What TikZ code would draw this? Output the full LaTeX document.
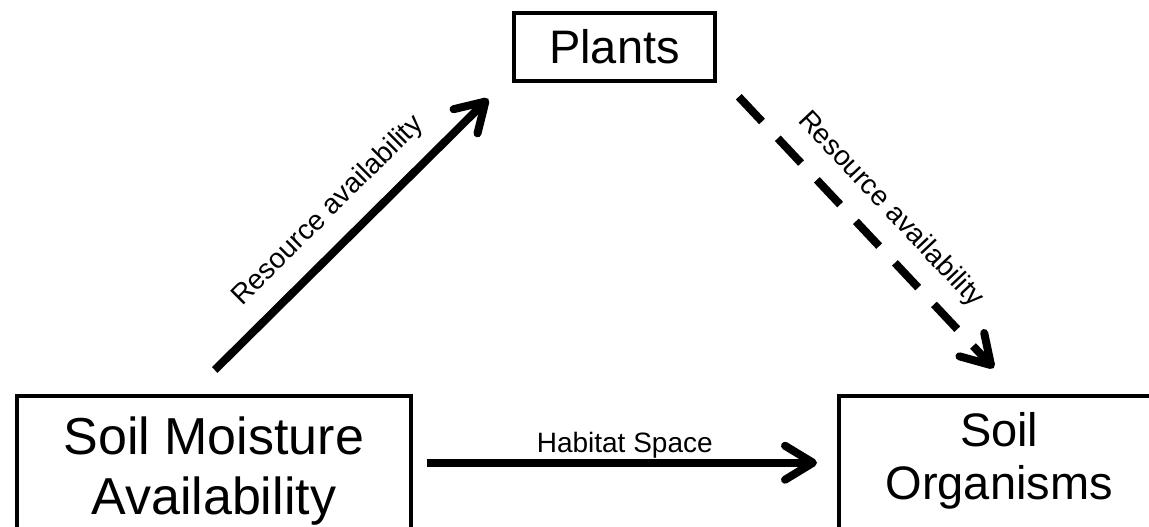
\documentclass[tikz,border=0pt]{standalone}
\usepackage{fontspec}
\setmainfont{Liberation Sans}
\usetikzlibrary{arrows.meta}

\begin{document}
\begin{tikzpicture}[x=1pt, y=-1pt,
  box/.style={draw, line width=3.5pt, inner sep=0pt, align=center},
  link/.style={line width=8pt, -{Straight Barb[length=28pt, width=34pt, round]}},
  lab/.style={font=\fontsize{28}{32}\selectfont, inner sep=1pt}]
\useasboundingbox (0,0) rectangle (1149,527);
\clip (0,0) rectangle (1149,527);

\node (plants) at (614.5,47) [box, minimum width=201pt, minimum height=68pt, font=\fontsize{47}{54}\selectfont] {Plants};
\node (moisture) at (15,394) [box, anchor=north west, minimum width=394pt, text height=119pt, text depth=15pt, font=\fontsize{52}{60}\selectfont] {Soil Moisture\\Availability};
\node (organisms) at (837,394) [box, anchor=north west, minimum width=321pt, text height=104pt, text depth=30pt, font=\fontsize{47}{53}\selectfont] {Soil\\Organisms};

\draw[link] ([shift={(1,-24)}]moisture.north) -- ([shift={(-24,16)}]plants.south west)
  node[lab, midway, sloped, above=15pt] (resleft) {Resource availability};
\draw[link, dash pattern=on 34pt off 23pt] ([shift={(22,14)}]plants.south east) -- ([shift={(-5.5,-26)}]organisms.north)
  node[lab, midway, sloped, above=15pt] (resright) {Resource availability};
\draw[link, shorten <=14pt, shorten >=20pt] (moisture.east) -- (organisms.west)
  node[lab, midway, above, inner sep=0pt] (habitat) {Habitat Space};
\end{tikzpicture}
\end{document}
